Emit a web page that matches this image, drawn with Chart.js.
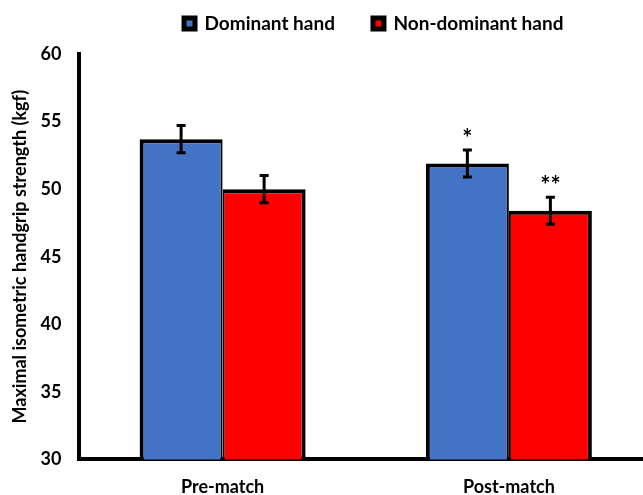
<!DOCTYPE html>
<html><head><meta charset="utf-8">
<script src="https://cdn.jsdelivr.net/npm/chart.js@4/dist/chart.umd.min.js"></script>
<style>html,body{margin:0;padding:0;overflow:hidden;background:#fff}#wrap{width:652px;height:495px}</style>
</head><body>
<div id="wrap"><canvas id="c" width="652" height="495"></canvas></div>
<script>
const categories = ["Pre-match", "Post-match"];
const seriesNames = ["Dominant hand", "Non-dominant hand"];
const dominant = [53.7, 51.9];
const nonDominant = [50.0, 48.4];
const dominantErr = [1.0, 1.0];
const nonDominantErr = [1.0, 1.0];
const dominantMarks = ["", "*"];
const nonDominantMarks = ["", "**"];
const yTicks = [30, 35, 40, 45, 50, 55, 60];

const FONT = "Lato";
const LEGEND_PAD = 38;
const errPlugin = {
  id: 'errbars',
  afterLayout(chart) {
    const lg = chart.legend;
    if (lg) {
      const h = lg.bottom - lg.top;
      lg.top = 24 - LEGEND_PAD - 10; lg.bottom = lg.top + h;
      lg.left += 8; lg.right += 8;
    }
  },
  afterDatasetsDraw(chart) {
    const ctx = chart.ctx;
    const y = chart.scales.y;
    const errs = [dominantErr, nonDominantErr];
    const marks = [dominantMarks, nonDominantMarks];
    chart.data.datasets.forEach((ds, i) => {
      const meta = chart.getDatasetMeta(i);
      meta.data.forEach((bar, j) => {
        const v = ds.data[j], e = errs[i][j];
        const yt = y.getPixelForValue(v + e), yb = y.getPixelForValue(v - e);
        ctx.save();
        ctx.strokeStyle = '#000';
        ctx.lineWidth = 3;
        ctx.beginPath();
        ctx.moveTo(bar.x, yt); ctx.lineTo(bar.x, yb);
        ctx.moveTo(bar.x - 4.5, yt); ctx.lineTo(bar.x + 4.5, yt);
        ctx.moveTo(bar.x - 4.5, yb); ctx.lineTo(bar.x + 4.5, yb);
        ctx.stroke();
        if (marks[i][j]) {
          ctx.fillStyle = '#000';
          ctx.font = 'bold 24px ' + FONT;
          ctx.textAlign = 'center';
          ctx.textBaseline = 'middle';
          ctx.fillText(marks[i][j], bar.x, yt - 11);
        }
        ctx.restore();
      });
    });
  }
};

new Chart(document.getElementById('c'), {
  type: 'bar',
  data: {
    labels: categories,
    datasets: [
      { label: seriesNames[0], data: dominant, backgroundColor: '#4472C4', borderColor: '#000',
        borderWidth: {top: 4, left: 4, right: 2, bottom: 0}, borderSkipped: false },
      { label: seriesNames[1], data: nonDominant, backgroundColor: '#FF0000', borderColor: '#000',
        borderWidth: {top: 4, left: 2, right: 4, bottom: 0}, borderSkipped: false }
    ]
  },
  options: {
    responsive: false,
    animation: false,
    layout: { padding: { top: -13, right: 0, left: 0, bottom: -20 } },
    datasets: { bar: { categoryPercentage: 0.58, barPercentage: 1.0 } },
    plugins: {
      tooltip: { enabled: false },
      legend: {
        position: 'top',
        fullSize: false,
        labels: {
          color: '#000',
          font: { family: FONT, size: 19, weight: 'bold' },
          boxWidth: 11, boxHeight: 11,
          padding: LEGEND_PAD,
          generateLabels(chart) {
            return chart.data.datasets.map((ds, i) => ({
              text: ds.label, fillStyle: ds.backgroundColor, strokeStyle: '#000',
              lineWidth: 5, datasetIndex: i, hidden: false, fontColor: '#000'
            }));
          }
        }
      }
    },
    scales: {
      x: {
        grid: { display: false, drawTicks: false },
        border: { display: true, color: '#000', width: 4 },
        ticks: { color: '#000', font: { family: FONT, size: 18, weight: 'bold' }, padding: 17 }
      },
      y: {
        min: 30, max: 60,
        afterBuildTicks(axis) { axis.ticks = yTicks.map(v => ({ value: v })); },
        grid: { display: false, drawTicks: false },
        border: { display: true, color: '#000', width: 4 },
        ticks: { color: '#000', font: { family: FONT, size: 18, weight: 'bold' }, padding: 18 },
        title: { display: true, text: 'Maximal isometric handgrip strength (kgf)', color: '#000',
          font: { family: FONT, size: 18, weight: 'bold' }, padding: { top: 9, bottom: -8 } }
      }
    }
  },
  plugins: [errPlugin]
});
</script>
</body></html>
